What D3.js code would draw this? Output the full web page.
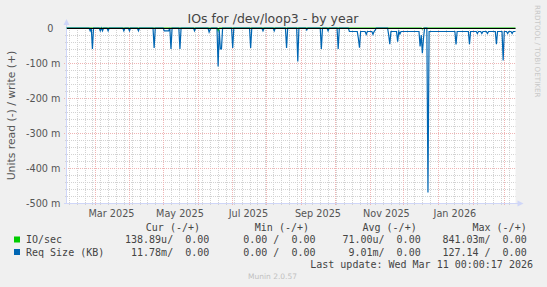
<!DOCTYPE html>
<html>
<head>
<meta charset="utf-8">
<script src="https://cdn.jsdelivr.net/npm/d3@7"></script>
<style>
  body { margin: 0; background: #f0f0f0; }
  text { font-family: "DejaVu Sans", sans-serif; }
  .mono { font-family: "DejaVu Sans Mono", monospace; font-size: 10px; fill: #444; white-space: pre; }
</style>
</head>
<body>
<div id="my_dataviz"></div>
<script>
// Req Size (KB) - read side, values in milli units
const reqPoints = [
  ["2025-02-04", 0],
  ["2025-02-24", 0], ["2025-02-25", -8], ["2025-02-26", 0], ["2025-02-27", -60], ["2025-02-28", 0],
  ["2025-03-05", 0], ["2025-03-06", -8], ["2025-03-07", 0], ["2025-03-08", -8], ["2025-03-09", 0],
  ["2025-03-12", 0], ["2025-03-13", -8], ["2025-03-14", 0],
  ["2025-03-26", 0], ["2025-03-27", -8], ["2025-03-28", 0],
  ["2025-03-31", 0], ["2025-04-01", -8], ["2025-04-02", 0],
  ["2025-04-08", 0], ["2025-04-09", -8], ["2025-04-10", 0],
  ["2025-04-22", 0], ["2025-04-23", -57], ["2025-04-24", 0],
  ["2025-05-01", 0], ["2025-05-02", -8], ["2025-05-06", -8], ["2025-05-07", 0],
  ["2025-05-08", -60], ["2025-05-09", 0],
  ["2025-05-15", 0], ["2025-05-16", -60], ["2025-05-17", 0],
  ["2025-05-28", 0], ["2025-05-29", -8], ["2025-05-30", 0],
  ["2025-06-10", 0], ["2025-06-11", -12], ["2025-06-12", -4], ["2025-06-13", 0],
  ["2025-06-18", 0], ["2025-06-19", -110], ["2025-06-20", -5], ["2025-06-21", -60], ["2025-06-22", -60], ["2025-06-23", 0],
  ["2025-07-01", 0], ["2025-07-02", -57], ["2025-07-03", 0],
  ["2025-07-17", 0], ["2025-07-18", -57], ["2025-07-19", 0],
  ["2025-07-28", 0], ["2025-07-29", -8], ["2025-07-30", 0],
  ["2025-08-07", 0], ["2025-08-08", -8], ["2025-08-09", 0],
  ["2025-08-18", 0], ["2025-08-19", -57], ["2025-08-20", 0],
  ["2025-08-28", 0], ["2025-08-29", -96], ["2025-08-30", 0],
  ["2025-09-05", 0], ["2025-09-06", -6], ["2025-09-07", 0],
  ["2025-09-18", 0], ["2025-09-19", -60], ["2025-09-20", 0],
  ["2025-09-24", 0], ["2025-09-25", -8], ["2025-09-26", 0],
  ["2025-10-03", 0], ["2025-10-04", -60], ["2025-10-05", 0],
  ["2025-10-13", 0], ["2025-10-14", -10], ["2025-10-21", -10], ["2025-10-22", -30], ["2025-10-23", -56], ["2025-10-24", -10],
  ["2025-10-28", -10], ["2025-10-29", -18], ["2025-10-30", -10], ["2025-11-03", -10], ["2025-11-04", -18], ["2025-11-05", -10],
  ["2025-11-06", -6], ["2025-11-07", 0],
  ["2025-11-17", 0], ["2025-11-18", -20], ["2025-11-19", -46], ["2025-11-20", -10], ["2025-11-25", -10], ["2025-11-26", -39],
  ["2025-11-27", -10], ["2025-11-28", -17], ["2025-11-29", -10],
  ["2025-12-15", -10], ["2025-12-16", -53], ["2025-12-17", -20], ["2025-12-18", -72], ["2025-12-19", -30], ["2025-12-20", 0],
  ["2025-12-22", 0], ["2025-12-23", -470], ["2025-12-24", -10],
  ["2026-01-16", -10], ["2026-01-17", -47], ["2026-01-18", -10],
  ["2026-01-28", -10], ["2026-01-29", -46], ["2026-01-30", -10],
  ["2026-02-04", -10], ["2026-02-05", -16], ["2026-02-06", -10],
  ["2026-02-08", -10], ["2026-02-09", -16], ["2026-02-10", -10],
  ["2026-02-13", -10], ["2026-02-14", -16], ["2026-02-15", -10],
  ["2026-02-21", -10], ["2026-02-22", -46], ["2026-02-23", -10],
  ["2026-02-27", -10], ["2026-02-28", -93], ["2026-03-01", -10],
  ["2026-03-03", -10], ["2026-03-04", -16], ["2026-03-05", -10],
  ["2026-03-07", -10], ["2026-03-08", -16], ["2026-03-09", -10],
  ["2026-03-11", -10]
];

// IO/sec - read side
const ioPoints = [
  ["2025-02-04", 0],
  ["2025-06-18", 0], ["2025-06-19", -8], ["2025-06-20", 0],
  ["2025-12-17", 0], ["2025-12-18", -3], ["2025-12-19", 0],
  ["2026-03-11", 0]
];

const yTicks = [0, -100, -200, -300, -400, -500];
const yTickLabels = ["0", "-100 m", "-200 m", "-300 m", "-400 m", "-500 m"];
const xTickMonths = ["2025-03", "2025-05", "2025-07", "2025-09", "2025-11", "2026-01"];
const xTickLabels = ["Mar 2025", "May 2025", "Jul 2025", "Sep 2025", "Nov 2025", "Jan 2026"];

const legendHeader = ["Cur (-/+)", "Min (-/+)", "Avg (-/+)", "Max (-/+)"];
const legendNames = ["IO/sec", "Req Size (KB)"];
const legendColors = ["#00cc00", "#0066b3"];
const legendRows = [
  ["138.89u/  0.00", "0.00 /  0.00", "71.00u/  0.00", "841.03m/  0.00"],
  ["11.78m/  0.00", "0.00 /  0.00", "9.01m/  0.00", "127.14 /  0.00"]
];

const W = 547, H = 287;
const plot = {left: 67, right: 515.5, top: 28, bottom: 203};

const parse = d3.utcParse("%Y-%m-%d");
const start = parse("2025-02-04"), end = parse("2026-03-11");

const svg = d3.select("#my_dataviz")
  .append("svg")
    .attr("width", W)
    .attr("height", H);

svg.append("rect").attr("width", W).attr("height", H).attr("fill", "#f0f0f0");

const x = d3.scaleUtc().domain([start, end]).range([plot.left - 0.4, plot.right]);
const y = d3.scaleLinear().domain([-500, 0]).range([plot.bottom, plot.top]);

// canvas
svg.append("rect")
  .attr("x", plot.left).attr("y", plot.top)
  .attr("width", plot.right - plot.left).attr("height", plot.bottom - plot.top)
  .attr("fill", "#fff");

// minor grid (weekly, epoch aligned -> thursdays)
const grid = svg.append("g");
d3.utcThursday.range(start, end).forEach(d => {
  const px = Math.round(x(d)) + 0.5;
  grid.append("line").attr("x1", px).attr("x2", px).attr("y1", plot.top).attr("y2", plot.bottom + 2)
    .attr("stroke", "#d2d2d2").attr("stroke-dasharray", "1,1");
});
d3.range(-480, 0, 20).filter(v => v % 100 !== 0).forEach(v => {
  const py = Math.round(y(v)) + 0.5;
  grid.append("line").attr("x1", plot.left - 2).attr("x2", plot.right).attr("y1", py).attr("y2", py)
    .attr("stroke", "#d2d2d2").attr("stroke-dasharray", "1,1");
});

// major grid
d3.utcMonth.range(start, end).forEach(d => {
  const px = Math.round(x(d)) + 0.5;
  grid.append("line").attr("x1", px).attr("x2", px).attr("y1", plot.top).attr("y2", plot.bottom + 3)
    .attr("stroke", "#efb4b4").attr("stroke-dasharray", "1,1");
});
yTicks.filter(v => v !== 0).forEach(v => {
  const py = Math.round(y(v)) + 0.5;
  grid.append("line").attr("x1", plot.left - 3).attr("x2", plot.right).attr("y1", py).attr("y2", py)
    .attr("stroke", "#efb4b4").attr("stroke-dasharray", "1,1");
});

// axes
svg.append("line").attr("x1", plot.left - 0.5).attr("x2", plot.left - 0.5).attr("y1", plot.bottom + 0.5).attr("y2", plot.top - 4)
  .attr("stroke", "#cfd6f8");
svg.append("path").attr("d", `M${plot.left - 3.5},${plot.top - 3} L${plot.left - 0.5},${plot.top - 9} L${plot.left + 2.5},${plot.top - 3} Z`).attr("fill", "#cfd6f8");
svg.append("line").attr("x1", plot.left - 3).attr("x2", plot.right + 4).attr("y1", plot.bottom + 0.5).attr("y2", plot.bottom + 0.5)
  .attr("stroke", "#cfd6f8");
svg.append("path").attr("d", `M${plot.right + 2},${plot.bottom - 2.5} L${plot.right + 8},${plot.bottom + 0.5} L${plot.right + 2},${plot.bottom + 3.5} Z`).attr("fill", "#cfd6f8");

// y tick labels
yTicks.forEach((v, i) => {
  svg.append("text")
    .attr("x", v === 0 ? 53.5 : 60.5)
    .attr("y", y(v) + 3.5)
    .attr("text-anchor", "end")
    .attr("font-size", 9.7)
    .attr("fill", "#555")
    .text(yTickLabels[i]);
});

// x tick labels, centred mid-month
xTickMonths.forEach((m, i) => {
  const d = parse(m + "-16");
  svg.append("text")
    .attr("x", x(d))
    .attr("y", 216.5)
    .attr("text-anchor", "middle")
    .attr("font-size", 9.7)
    .attr("fill", "#555")
    .text(xTickLabels[i]);
});

// series
const line = d3.line()
  .x(d => x(parse(d[0])))
  .y(d => y(d[1]));

svg.append("path").datum(ioPoints)
  .attr("d", line).attr("fill", "none")
  .attr("stroke", legendColors[0]).attr("stroke-width", 1.2);

svg.append("path").datum(reqPoints)
  .attr("d", line).attr("fill", "none")
  .attr("stroke", legendColors[1]).attr("stroke-width", 1.2);

// zero line
svg.append("line").attr("x1", plot.left).attr("x2", plot.right).attr("y1", y(0) + 0.5).attr("y2", y(0) + 0.5)
  .attr("stroke", "#000").attr("stroke-width", 1);

// title
svg.append("text")
  .attr("x", 273).attr("y", 23)
  .attr("text-anchor", "middle")
  .attr("font-size", 12.5)
  .attr("fill", "#444")
  .text("IOs for /dev/loop3 - by year");

// y axis label
svg.append("text")
  .attr("transform", `translate(14.5,${(plot.top + plot.bottom) / 2}) rotate(-90)`)
  .attr("text-anchor", "middle")
  .attr("font-size", 10.8)
  .attr("fill", "#555")
  .text("Units read (-) / write (+)");

// watermark
svg.append("text")
  .attr("transform", "translate(535,5) rotate(90)")
  .attr("font-size", 7.2)
  .attr("fill", "#c8c8c8")
  .text("RRDTOOL / TOBI OETIKER");

// legend
const headerEnds = [200, 309, 416.7, 526.7];
const valueEnds = [209.3, 315.5, 420.7, 526.7];
legendHeader.forEach((h, i) => {
  svg.append("text").attr("class", "mono")
    .attr("x", headerEnds[i]).attr("y", 231)
    .attr("text-anchor", "end")
    .text(h);
});
legendNames.forEach((name, r) => {
  const by = 243 + r * 12.5;
  svg.append("rect")
    .attr("x", 14).attr("y", by - 6.5)
    .attr("width", 6).attr("height", 6)
    .attr("fill", legendColors[r]);
  svg.append("text").attr("class", "mono")
    .attr("x", 26).attr("y", by)
    .text(name);
  legendRows[r].forEach((v, i) => {
    svg.append("text").attr("class", "mono")
      .attr("x", valueEnds[i]).attr("y", by)
      .attr("text-anchor", "end")
      .text(v);
  });
});

svg.append("text").attr("class", "mono")
  .attr("x", 533).attr("y", 268)
  .attr("text-anchor", "end")
  .text("Last update: Wed Mar 11 00:00:17 2026");

svg.append("text")
  .attr("x", 272.5).attr("y", 279)
  .attr("text-anchor", "middle")
  .attr("font-size", 7.5)
  .attr("fill", "#c0c0c0")
  .text("Munin 2.0.57");
</script>
</body>
</html>
